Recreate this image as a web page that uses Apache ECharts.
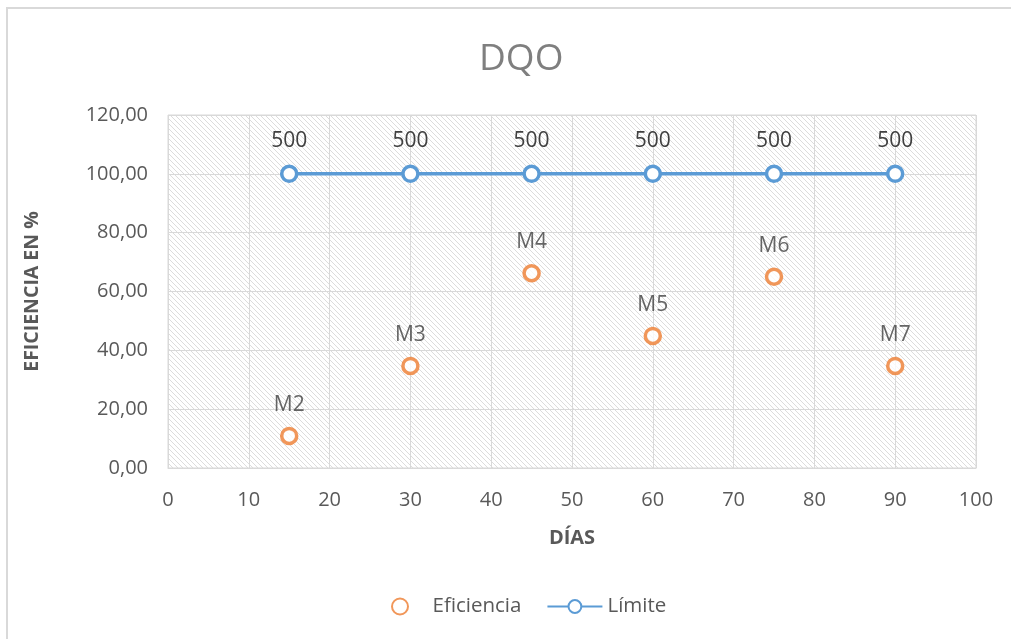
<!DOCTYPE html>
<html>
<head>
<meta charset="utf-8">
<script src="https://cdn.jsdelivr.net/npm/echarts@6/dist/echarts.min.js"></script>
<style>
  html, body { margin: 0; padding: 0; background: #fff; }
  #chart { width: 1011px; height: 639px; }
</style>
</head>
<body>
<div id="chart"></div>
<script>
// Días de muestreo
const dias = [15, 30, 45, 60, 75, 90];
// Eficiencia de remoción de DQO (%)
const eficiencia = [10.9, 34.7, 66.2, 44.9, 65.0, 34.7];
const muestras = ['M2', 'M3', 'M4', 'M5', 'M6', 'M7'];
// Límite permisible
const limite = [100, 100, 100, 100, 100, 100];
const limiteEtiquetas = ['500', '500', '500', '500', '500', '500'];

// Diagonal hatch used as plot-area background
function hatchPattern() {
  const c = document.createElement('canvas');
  const s = 5;
  c.width = s; c.height = s;
  const g = c.getContext('2d');
  g.fillStyle = '#ffffff';
  g.fillRect(0, 0, s, s);
  g.strokeStyle = '#dcdcdc';
  g.lineWidth = 1;
  g.beginPath();
  g.moveTo(-1, -1); g.lineTo(s + 1, s + 1);
  g.moveTo(-1 - s, -1); g.lineTo(1, s + 1);
  g.moveTo(s - 1, -1); g.lineTo(2 * s + 1, s + 1);
  g.stroke();
  return c;
}

const fontFam = '"Open Sans", Lato, sans-serif';
const chart = echarts.init(document.getElementById('chart'));
chart.setOption({
  animation: false,
  backgroundColor: '#ffffff',
  textStyle: { fontFamily: fontFam },
  graphic: [{
    type: 'rect',
    shape: { x: 7, y: 8, width: 1100, height: 700 },
    style: { fill: 'none', stroke: '#d9d9d9', lineWidth: 2 },
    silent: true
  }],
  title: {
    text: 'DQO',
    left: 474,
    top: 36,
    textStyle: { fontFamily: fontFam, fontSize: 37, fontWeight: 'normal', color: '#7f7f7f' }
  },
  grid: {
    left: 168, right: 35, top: 115, bottom: 171,
    show: true,
    backgroundColor: { image: hatchPattern(), repeat: 'repeat' },
    borderColor: '#d9d9d9',
    borderWidth: 1
  },
  legend: {
    bottom: 17,
    left: 386,
    itemGap: 25,
    itemWidth: 55,
    itemHeight: 16,
    textStyle: { fontFamily: fontFam, fontSize: 20.5, color: '#595959' },
    data: [
      { name: 'Eficiencia', icon: 'circle' },
      { name: 'Límite' }
    ]
  },
  xAxis: {
    type: 'value',
    min: 0, max: 100, interval: 10,
    name: 'DÍAS',
    nameLocation: 'middle',
    nameGap: 60,
    nameTextStyle: { fontFamily: fontFam, fontSize: 20, fontWeight: 'bold', color: '#595959' },
    axisLine: { show: true, lineStyle: { color: '#d9d9d9', width: 1 } },
    axisTick: { show: false },
    axisLabel: { fontFamily: fontFam, fontSize: 20, color: '#595959', margin: 22 },
    splitLine: { show: true, lineStyle: { color: '#d9d9d9', width: 1 } }
  },
  yAxis: {
    type: 'value',
    min: 0, max: 120, interval: 20,
    name: 'EFICIENCIA EN %',
    nameLocation: 'middle',
    nameGap: 126,
    nameTextStyle: { fontFamily: fontFam, fontSize: 19.5, fontWeight: 'bold', color: '#595959' },
    axisLine: { show: false },
    axisTick: { show: false },
    axisLabel: {
      fontFamily: fontFam, fontSize: 20, color: '#595959', margin: 20,
      formatter: v => v.toFixed(2).replace('.', ',')
    },
    splitLine: { show: true, lineStyle: { color: '#d9d9d9', width: 1 } }
  },
  series: [
    {
      name: 'Eficiencia',
      type: 'scatter',
      symbol: 'circle',
      symbolSize: 15,
      itemStyle: { color: '#ffffff', borderColor: '#ed7d31', borderWidth: 3.5 },
      data: dias.map((d, i) => ({ value: [d, eficiencia[i]], name: muestras[i] })),
      label: {
        show: true, position: 'top', distance: 11,
        formatter: p => p.name,
        fontFamily: fontFam, fontSize: 21, color: '#404040'
      },
      z: 3
    },
    {
      name: 'Límite',
      type: 'line',
      symbol: 'circle',
      symbolSize: 15,
      lineStyle: { color: '#5b9bd5', width: 3.5 },
      itemStyle: { color: '#ffffff', borderColor: '#5b9bd5', borderWidth: 3.5 },
      data: dias.map((d, i) => ({ value: [d, limite[i]], name: limiteEtiquetas[i] })),
      label: {
        show: true, position: 'top', distance: 13,
        formatter: p => p.name,
        fontFamily: fontFam, fontSize: 21, color: '#404040'
      },
      z: 4
    }
  ]
});
</script>
</body>
</html>
